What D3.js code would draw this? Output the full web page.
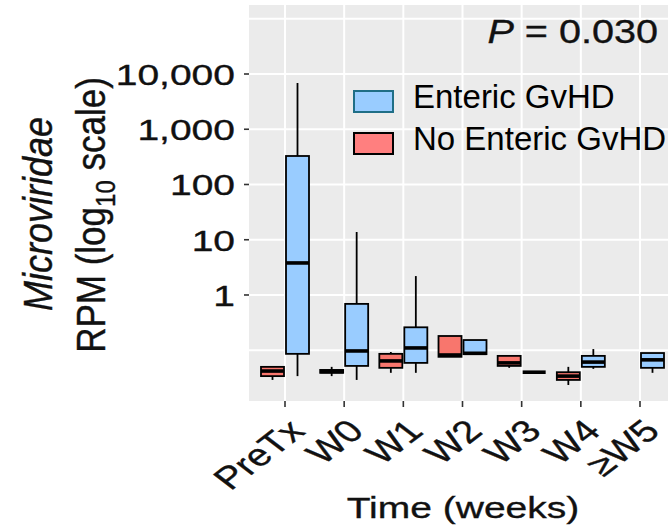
<!DOCTYPE html>
<html>
<head>
<meta charset="utf-8">
<script src="https://cdn.jsdelivr.net/npm/d3@7"></script>
<style>
body { margin: 0; background: #fff; }
text { font-family: "Liberation Sans", Arial, sans-serif; }
.heavy { stroke: #111; stroke-width: 0.35px; }
</style>
</head>
<body>
<svg width="668" height="530"></svg>
<script>
var categories = ["PreTx", "W0", "W1", "W2", "W3", "W4", "\u2265W5"];
var groups = ["No Enteric GvHD", "Enteric GvHD"];

// [lower whisker, q1, median, q3, upper whisker] per time point
var enteric = [
    [0.034, 0.086, 3.8, 328, 6870],
    [0.029, 0.052, 0.097, 0.69, 13.8],
    [0.039, 0.059, 0.11, 0.26, 2.2],
    [0.085, 0.085, 0.088, 0.153, 0.153],
    [0.040, 0.040, 0.040, 0.040, 0.040],
    [0.046, 0.050, 0.061, 0.079, 0.105],
    [0.039, 0.048, 0.067, 0.089, 0.089]
];
var noEnteric = [
    [0.029, 0.034, 0.042, 0.050, 0.050],
    [0.034, 0.039, 0.041, 0.044, 0.050],
    [0.039, 0.048, 0.064, 0.086, 0.093],
    [0.076, 0.076, 0.082, 0.181, 0.181],
    [0.048, 0.052, 0.059, 0.079, 0.079],
    [0.0235, 0.029, 0.034, 0.040, 0.050],
    null
];

var yTicks = [1, 10, 100, 1000, 10000];
var yGrid = [0.1, 1, 10, 100, 1000, 10000, 100000];
var pValue = "0.030";

var colors = {"Enteric GvHD": "#99CCFF", "No Enteric GvHD": "#F8766D"};
var legendFill = {"Enteric GvHD": "#99CCFF", "No Enteric GvHD": "#FF7F7F"};
var legendStroke = {"Enteric GvHD": "#1F6E86", "No Enteric GvHD": "#000"};

var svg = d3.select("svg");
var stretch = 1.3;

var panel = {left: 249, right: 668, top: 5, bottom: 401};

var y = d3.scaleLog()
    .domain([Math.pow(10, -1.919), Math.pow(10, 5.249)])
    .range([panel.bottom, panel.top]);

var x = d3.scalePoint()
    .domain(categories)
    .range([285, 640]);

var dodge = d3.scaleBand()
    .domain(groups)
    .range([-24, 24])
    .paddingInner(0.08);

// panel background + grid
svg.append("rect")
    .attr("x", panel.left).attr("y", panel.top)
    .attr("width", panel.right - panel.left).attr("height", panel.bottom - panel.top)
    .attr("fill", "#EBEBEB");

svg.selectAll(".hgrid")
    .data(yGrid)
    .enter().append("line")
    .attr("x1", panel.left).attr("x2", panel.right)
    .attr("y1", function(d) { return y(d); })
    .attr("y2", function(d) { return y(d); })
    .attr("stroke", "#fff").attr("stroke-width", 2);

svg.selectAll(".vgrid")
    .data(categories)
    .enter().append("line")
    .attr("x1", function(d) { return x(d); })
    .attr("x2", function(d) { return x(d); })
    .attr("y1", panel.top).attr("y2", panel.bottom)
    .attr("stroke", "#fff").attr("stroke-width", 2);

// boxes
var boxes = [];
categories.forEach(function(c, i) {
    if (noEnteric[i]) boxes.push({cat: c, group: "No Enteric GvHD", s: noEnteric[i]});
    if (enteric[i]) boxes.push({cat: c, group: "Enteric GvHD", s: enteric[i]});
});

var box = svg.selectAll(".box")
    .data(boxes)
    .enter().append("g")
    .attr("class", "box")
    .attr("transform", function(d) { return "translate(" + (x(d.cat) + dodge(d.group)) + ",0)"; });

var bw = dodge.bandwidth();

box.append("line")
    .attr("x1", bw / 2).attr("x2", bw / 2)
    .attr("y1", function(d) { return y(d.s[0]); })
    .attr("y2", function(d) { return y(d.s[1]); })
    .attr("stroke", "#000").attr("stroke-width", 1.8);

box.append("line")
    .attr("x1", bw / 2).attr("x2", bw / 2)
    .attr("y1", function(d) { return y(d.s[3]); })
    .attr("y2", function(d) { return y(d.s[4]); })
    .attr("stroke", "#000").attr("stroke-width", 1.8);

box.append("rect")
    .attr("x", 0).attr("width", bw)
    .attr("y", function(d) { return y(d.s[3]); })
    .attr("height", function(d) { return y(d.s[1]) - y(d.s[3]); })
    .attr("fill", function(d) { return colors[d.group]; })
    .attr("stroke", "#000").attr("stroke-width", 1.8);

box.append("line")
    .attr("x1", 0).attr("x2", bw)
    .attr("y1", function(d) { return y(d.s[2]); })
    .attr("y2", function(d) { return y(d.s[2]); })
    .attr("stroke", "#000").attr("stroke-width", 3.6);

// y axis ticks + labels
svg.selectAll(".ytick")
    .data(yTicks)
    .enter().append("line")
    .attr("x1", panel.left - 5).attr("x2", panel.left)
    .attr("y1", function(d) { return y(d); })
    .attr("y2", function(d) { return y(d); })
    .attr("stroke", "#333").attr("stroke-width", 1.6);

svg.selectAll(".ylab")
    .data(yTicks)
    .enter().append("text")
    .attr("class", "heavy")
    .attr("transform", function(d) { return "translate(235," + y(d) + ") scale(" + stretch + ",1)"; })
    .attr("dy", "0.36em")
    .attr("text-anchor", "end")
    .attr("font-size", 30)
    .attr("fill", "#111")
    .text(function(d) { return d3.format(",")(d); });

// x axis ticks + labels
svg.selectAll(".xtick")
    .data(categories)
    .enter().append("line")
    .attr("x1", function(d) { return x(d); })
    .attr("x2", function(d) { return x(d); })
    .attr("y1", panel.bottom).attr("y2", panel.bottom + 6)
    .attr("stroke", "#333").attr("stroke-width", 1.6);

svg.selectAll(".xlab")
    .data(categories)
    .enter().append("text")
    .attr("class", "heavy")
    .attr("transform", function(d) { return "translate(" + (x(d) + 1) + "," + (panel.bottom + 16) + ") scale(" + stretch + ",1) rotate(-45)"; })
    .attr("dy", "0.72em")
    .attr("text-anchor", "end")
    .attr("font-size", 31)
    .attr("fill", "#111")
    .text(function(d) { return d; });

// axis titles
svg.append("text")
    .attr("class", "heavy")
    .attr("transform", "translate(463,518) scale(" + stretch + ",1)")
    .attr("text-anchor", "middle")
    .attr("font-size", 30)
    .attr("fill", "#111")
    .text("Time (weeks)");

svg.append("text")
    .attr("class", "heavy")
    .attr("transform", "translate(52,214) scale(1.15,1) rotate(-90)")
    .attr("text-anchor", "middle")
    .attr("font-size", 36)
    .attr("font-style", "italic")
    .attr("fill", "#111")
    .text("Microviridae");

var yt = svg.append("text")
    .attr("class", "heavy")
    .attr("transform", "translate(105,215) scale(1.15,1) rotate(-90)")
    .attr("text-anchor", "middle")
    .attr("font-size", 35)
    .attr("fill", "#111");
yt.append("tspan").text("RPM (log");
yt.append("tspan").attr("font-size", 24).attr("dy", 9).text("10");
yt.append("tspan").attr("dy", -9).text(" scale)");

// P value
var pt = svg.append("text")
    .attr("class", "heavy")
    .attr("transform", "translate(658,43) scale(1.2,1)")
    .attr("text-anchor", "end")
    .attr("font-size", 33)
    .attr("fill", "#111");
pt.append("tspan").attr("font-style", "italic").text("P");
pt.append("tspan").text(" = " + pValue);

// legend
var legendOrder = ["Enteric GvHD", "No Enteric GvHD"];
var leg = svg.selectAll(".legend")
    .data(legendOrder)
    .enter().append("g")
    .attr("transform", function(d, i) { return "translate(354," + (91 + i * 42) + ")"; });

leg.append("rect")
    .attr("width", 39).attr("height", 21)
    .attr("fill", function(d) { return legendFill[d]; })
    .attr("stroke", function(d) { return legendStroke[d]; })
    .attr("stroke-width", 2);

leg.append("text")
    .attr("x", 59).attr("y", 17)
    .attr("font-family", "Lato, 'Liberation Sans', sans-serif")
    .attr("font-size", 33)
    .attr("fill", "#000")
    .text(function(d) { return d; });
</script>
</body>
</html>
